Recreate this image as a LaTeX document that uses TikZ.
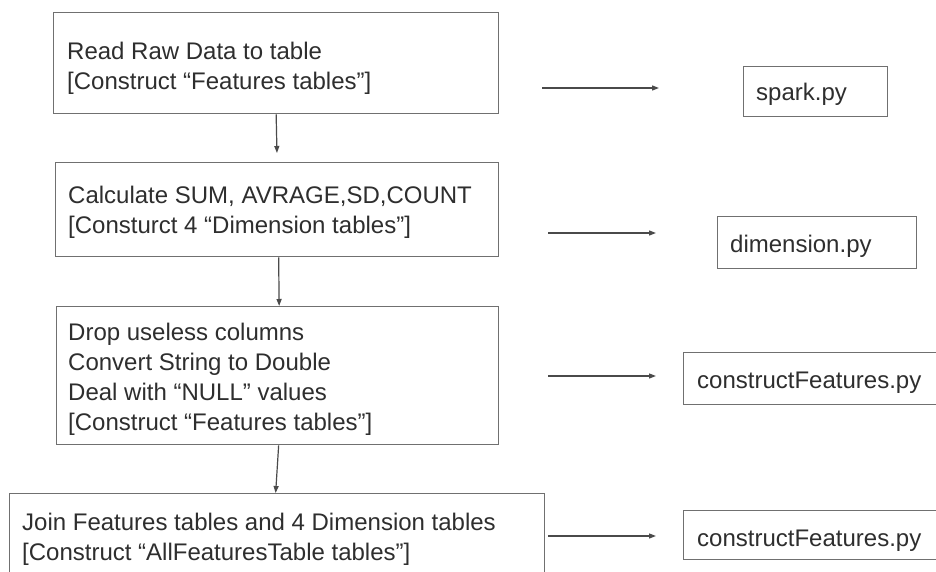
\documentclass[tikz,border=0pt]{standalone}
\usepackage{fontspec}
\setmainfont{Liberation Sans}
\usetikzlibrary{arrows.meta}
\definecolor{boxline}{HTML}{707070}
\definecolor{arrowline}{HTML}{4A4A4A}
\definecolor{textgray}{HTML}{2E2E2E}
\tikzset{
  stepbox/.style={draw=boxline, line width=1.3pt, rectangle, inner sep=0pt,
    anchor=north west},
  steptext/.style={font=\fontsize{24}{30}\selectfont, text=textgray,
    align=left, inner sep=0pt, anchor=north west},
  flow/.style={draw=arrowline, line width=1.2pt,
    -{Triangle[length=7pt,width=5pt]}},
}
\begin{document}
\begin{tikzpicture}[x=1pt, y=-1pt]
  \useasboundingbox (0,0) rectangle (936,572);
  \clip (0,0) rectangle (936,572);
  \fill[white] (0,0) rectangle (936,572);

  % pipeline steps on the left
  \node[stepbox, minimum width=445pt, minimum height=101pt] (b1) at (53,12) {};
  \node[steptext] (t1) at (67,42) {Read Raw Data to table\\{[}Construct “Features tables”{]}};

  \node[stepbox, minimum width=443pt, minimum height=94pt] (b2) at (55,162) {};
  \node[steptext] (t2) at (68,186) {Calculate SUM, AVRAGE,SD,COUNT\\{[}Consturct 4 “Dimension tables”{]}};

  \node[stepbox, minimum width=442pt, minimum height=138pt] (b3) at (56,306) {};
  \node[steptext] (t3) at (68,323) {Drop useless columns\\Convert String to Double\\Deal with “NULL” values\\{[}Construct “Features tables”{]}};

  \node[stepbox, minimum width=535pt, minimum height=120pt] (b4) at (9,493) {};
  \node[steptext] (t4) at (22,513) {Join Features tables and 4 Dimension tables\\{[}Construct “AllFeaturesTable tables”{]}};

  % scripts on the right
  \node[stepbox, minimum width=144pt, minimum height=50pt] (s1) at (743,66) {};
  \node[steptext] (u1) at (756,83) {spark.py};

  \node[stepbox, minimum width=199pt, minimum height=52pt] (s2) at (717,216) {};
  \node[steptext] (u2) at (730,235) {dimension.py};

  \node[stepbox, minimum width=300pt, minimum height=52pt] (s3) at (683,352) {};
  \node[steptext] (u3) at (697,372) {constructFeatures.py};

  \node[stepbox, minimum width=300pt, minimum height=49pt] (s4) at (683,510) {};
  \node[steptext] (u4) at (697,530) {constructFeatures.py};

  % vertical flow between steps
  \draw[flow, shorten >=9pt] (b1.south) -- (b2.north);
  \draw[flow] ([xshift=1.5pt]b2.south) -- ([xshift=1.5pt]b3.north);
  \draw[flow] ([xshift=1pt]b3.south) -- ([xshift=-1.5pt]b4.north);

  % step-to-script arrows
  \coordinate (a1s) at (542,88);  \coordinate (a1e) at (659,88);
  \coordinate (a2s) at (548,233); \coordinate (a2e) at (656,233);
  \coordinate (a3s) at (548,376); \coordinate (a3e) at (656,376);
  \coordinate (a4s) at (548,536); \coordinate (a4e) at (656,536);
  \draw[flow] (a1s) -- (a1e);
  \draw[flow] (a2s) -- (a2e);
  \draw[flow] (a3s) -- (a3e);
  \draw[flow] (a4s) -- (a4e);
\end{tikzpicture}
\end{document}
